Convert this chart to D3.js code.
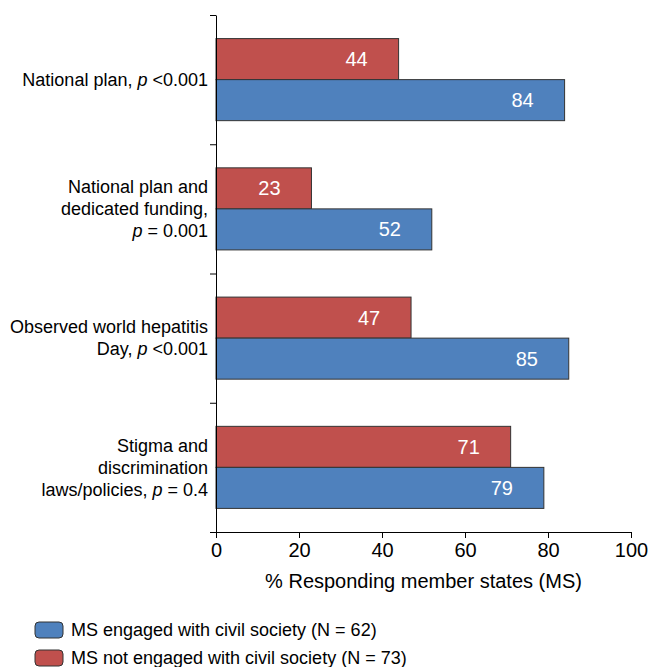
<!DOCTYPE html>
<html>
<head>
<meta charset="utf-8">
<script src="https://cdn.jsdelivr.net/npm/d3@7"></script>
<style>
  body { margin: 0; background: #fff; }
  text { font-family: "Liberation Sans", Arial, sans-serif; }
</style>
</head>
<body>
<div class="canvas"></div>
<script>
// data
const categories = [
  ['National plan, p <0.001'],
  ['National plan and', 'dedicated funding,', 'p = 0.001'],
  ['Observed world hepatitis', 'Day, p <0.001'],
  ['Stigma and', 'discrimination', 'laws/policies, p = 0.4']
];
const notEngaged = [44, 23, 47, 71];
const engaged = [84, 52, 85, 79];
const seriesNames = ['MS not engaged with civil society (N = 73)', 'MS engaged with civil society (N = 62)'];
const xTicks = [0, 20, 40, 60, 80, 100];

const dims = { width: 651, height: 667 };
const margin = { left: 216, right: 20, top: 15, bottom: 135 };
const colour = { notEngaged: '#c0504d', engaged: '#4f81bd' };

const svg = d3.select('.canvas')
  .append('svg')
  .attr('width', dims.width)
  .attr('height', dims.height);

const innerH = dims.height - margin.top - margin.bottom;

// scales
const x = d3.scaleLinear()
  .domain([0, 100])
  .range([margin.left, dims.width - margin.right]);

const y = d3.scaleBand()
  .domain(d3.range(categories.length))
  .range([margin.top, margin.top + innerH])
  .padding(0);

// two bars per category, gap above and below the pair
const sub = d3.scaleBand()
  .domain(['notEngaged', 'engaged'])
  .range([0, y.bandwidth()])
  .paddingInner(0)
  .paddingOuter(0.575);

const rows = categories.map((c, i) => ({
  i,
  bars: [
    { key: 'notEngaged', value: notEngaged[i] },
    { key: 'engaged', value: engaged[i] }
  ]
}));

const groups = svg.selectAll('g.row')
  .data(rows)
  .enter()
  .append('g')
    .attr('class', 'row')
    .attr('transform', d => `translate(0, ${y(d.i)})`);

groups.selectAll('rect')
  .data(d => d.bars)
  .enter()
  .append('rect')
    .attr('x', x(0))
    .attr('y', d => sub(d.key))
    .attr('width', d => x(d.value) - x(0))
    .attr('height', sub.bandwidth())
    .attr('fill', d => colour[d.key])
    .attr('stroke', '#333')
    .attr('stroke-width', 1);

// value labels inside bar ends
groups.selectAll('text.val')
  .data(d => d.bars)
  .enter()
  .append('text')
    .attr('class', 'val')
    .attr('x', d => x(d.value) - 42)
    .attr('y', d => sub(d.key) + sub.bandwidth() / 2)
    .attr('dy', '0.35em')
    .attr('text-anchor', 'middle')
    .attr('fill', '#fff')
    .attr('font-size', 20)
    .text(d => d.value);

// y axis, ticks sit on the band edges
const yEdge = d3.scaleLinear()
  .domain([0, categories.length])
  .range([margin.top, margin.top + innerH]);

svg.append('g')
  .attr('transform', `translate(${x(0)}, 0)`)
  .call(d3.axisLeft(yEdge).ticks(categories.length).tickFormat('').tickSize(6).tickSizeOuter(0))
  .call(g => g.selectAll('path, line').attr('stroke', '#000'));

// x axis
const xAxis = svg.append('g')
  .attr('transform', `translate(0, ${margin.top + innerH})`)
  .call(d3.axisBottom(x).tickValues(xTicks).tickSize(6).tickSizeOuter(0).tickPadding(5));

xAxis.selectAll('path, line').attr('stroke', '#000');
xAxis.selectAll('text')
  .attr('font-size', 20)
  .attr('fill', '#000')
  .attr('font-family', '"Liberation Sans", Arial, sans-serif');

svg.append('text')
  .attr('x', (x(0) + x(100)) / 2)
  .attr('y', margin.top + innerH + 56)
  .attr('text-anchor', 'middle')
  .attr('font-size', 20)
  .text('% Responding member states (MS)');

// category labels with italic p
const lineH = 22;
categories.forEach((lines, i) => {
  const cy = y(i) + y.bandwidth() / 2;
  const t = svg.append('text')
    .attr('text-anchor', 'end')
    .attr('font-size', 18)
    .attr('fill', '#000');
  lines.forEach((line, j) => {
    const ly = cy + (j - (lines.length - 1) / 2) * lineH;
    const row = t.append('tspan')
      .attr('x', 208)
      .attr('y', ly)
      .attr('dy', '0.35em');
    const parts = line.split(/\bp\b/);
    parts.forEach((part, k) => {
      if (part) row.append('tspan').text(part);
      if (k < parts.length - 1) row.append('tspan').attr('font-style', 'italic').text('p');
    });
  });
});

// legend
const legendData = [
  { key: 'engaged', name: seriesNames[1] },
  { key: 'notEngaged', name: seriesNames[0] }
];
const legend = svg.append('g')
  .attr('transform', 'translate(35, 622)');

legend.selectAll('rect')
  .data(legendData)
  .enter()
  .append('rect')
    .attr('x', 0)
    .attr('y', (d, i) => i * 28)
    .attr('width', 28)
    .attr('height', 16)
    .attr('rx', 4)
    .attr('fill', d => colour[d.key])
    .attr('stroke', '#333');

legend.selectAll('text')
  .data(legendData)
  .enter()
  .append('text')
    .attr('x', 36)
    .attr('y', (d, i) => i * 28 + 8)
    .attr('dy', '0.35em')
    .attr('font-size', 18)
    .text(d => d.name);
</script>
</body>
</html>
